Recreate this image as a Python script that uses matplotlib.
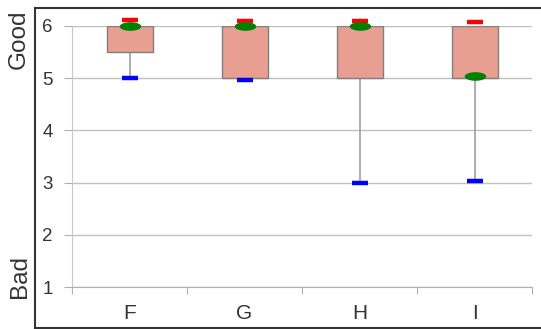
import matplotlib.pyplot as plt
import numpy as np
from matplotlib.lines import Line2D
from matplotlib.markers import MarkerStyle
from matplotlib.path import Path
from matplotlib.transforms import Affine2D

plt.rcParams["font.family"] = ["Liberation Sans", "DejaVu Sans"]

categories = ["F", "G", "H", "I"]
box_low = [5.5, 5.0, 5.0, 5.0]
box_high = [6.0, 6.0, 6.0, 6.0]
min_vals = [5.0, 4.97, 3.0, 3.03]
max_vals = [6.12, 6.1, 6.1, 6.07]
mean_vals = [6.0, 6.0, 6.0, 5.05]

fig = plt.figure(figsize=(5.41, 3.29), dpi=100)
ax = fig.add_axes([72 / 541, 42 / 329, 460 / 541, 261 / 329])

x = np.arange(len(categories)) + 0.5
width = 0.4

# whiskers
for xi, lo, mn in zip(x, box_low, min_vals):
    if mn < lo:
        ax.plot([xi, xi], [mn, lo], color="#a0a0a0", linewidth=1.2, zorder=2)

ax.bar(x, np.array(box_high) - np.array(box_low), bottom=box_low, width=width,
       color="#e89e90", edgecolor="#808080", linewidth=1.0, zorder=3)

ax.plot(x, min_vals, linestyle="none", marker="_", markersize=11,
        markeredgewidth=3.2, color="#0000ff", zorder=4, clip_on=False)
ax.plot(x, max_vals, linestyle="none", marker="_", markersize=11,
        markeredgewidth=3.2, color="#ff0000", zorder=4, clip_on=False)

ellipse = Path.unit_circle().transformed(Affine2D().scale(1.0, 0.4))
ax.plot(x, mean_vals, linestyle="none", marker=MarkerStyle(ellipse),
        markersize=15.5, color="#008000", markeredgewidth=0, zorder=5,
        clip_on=False)

ax.set_xlim(0, len(categories))
ax.set_ylim(1, 6)
ax.set_yticks([1, 2, 3, 4, 5, 6])
ax.set_xticks(np.arange(len(categories) + 1))
ax.set_xticklabels([])
ax.set_xticks(x, minor=True)
ax.set_xticklabels(categories, minor=True)
ax.tick_params(axis="x", which="minor", length=0, pad=12, labelsize=15,
               labelcolor="#333333")
ax.tick_params(axis="x", which="major", length=5, color="#b0b0b0",
               direction="out")
ax.tick_params(axis="y", length=6, color="#b0b0b0", labelsize=13.5,
               labelcolor="#333333", pad=8)
ax.grid(axis="y", color="#c0c0c0", linewidth=1.0, zorder=0)
ax.set_axisbelow(True)
for side in ["top", "right"]:
    ax.spines[side].set_visible(False)
ax.spines["left"].set_color("#c8c8c8")
ax.spines["bottom"].set_color("#b0b0b0")

fig.text(19 / 541, 1 - 39 / 329, "Good", rotation=90, ha="center",
         va="center", fontsize=17.5, color="#333333")
fig.text(20 / 541, 1 - 277 / 329, "Bad", rotation=90, ha="center",
         va="center", fontsize=17.5, color="#333333")

# outer frame
frame_kw = dict(color="#333333", linewidth=1.5, transform=fig.transFigure)
fig.add_artist(Line2D([35 / 541, 1], [1 - 8 / 329, 1 - 8 / 329], **frame_kw))
fig.add_artist(Line2D([35 / 541, 35 / 541], [1 - 8 / 329, 1 - 328 / 329], **frame_kw))
fig.add_artist(Line2D([35 / 541, 1], [1 - 328 / 329, 1 - 328 / 329], **frame_kw))

fig.savefig("out.png", dpi=100)
